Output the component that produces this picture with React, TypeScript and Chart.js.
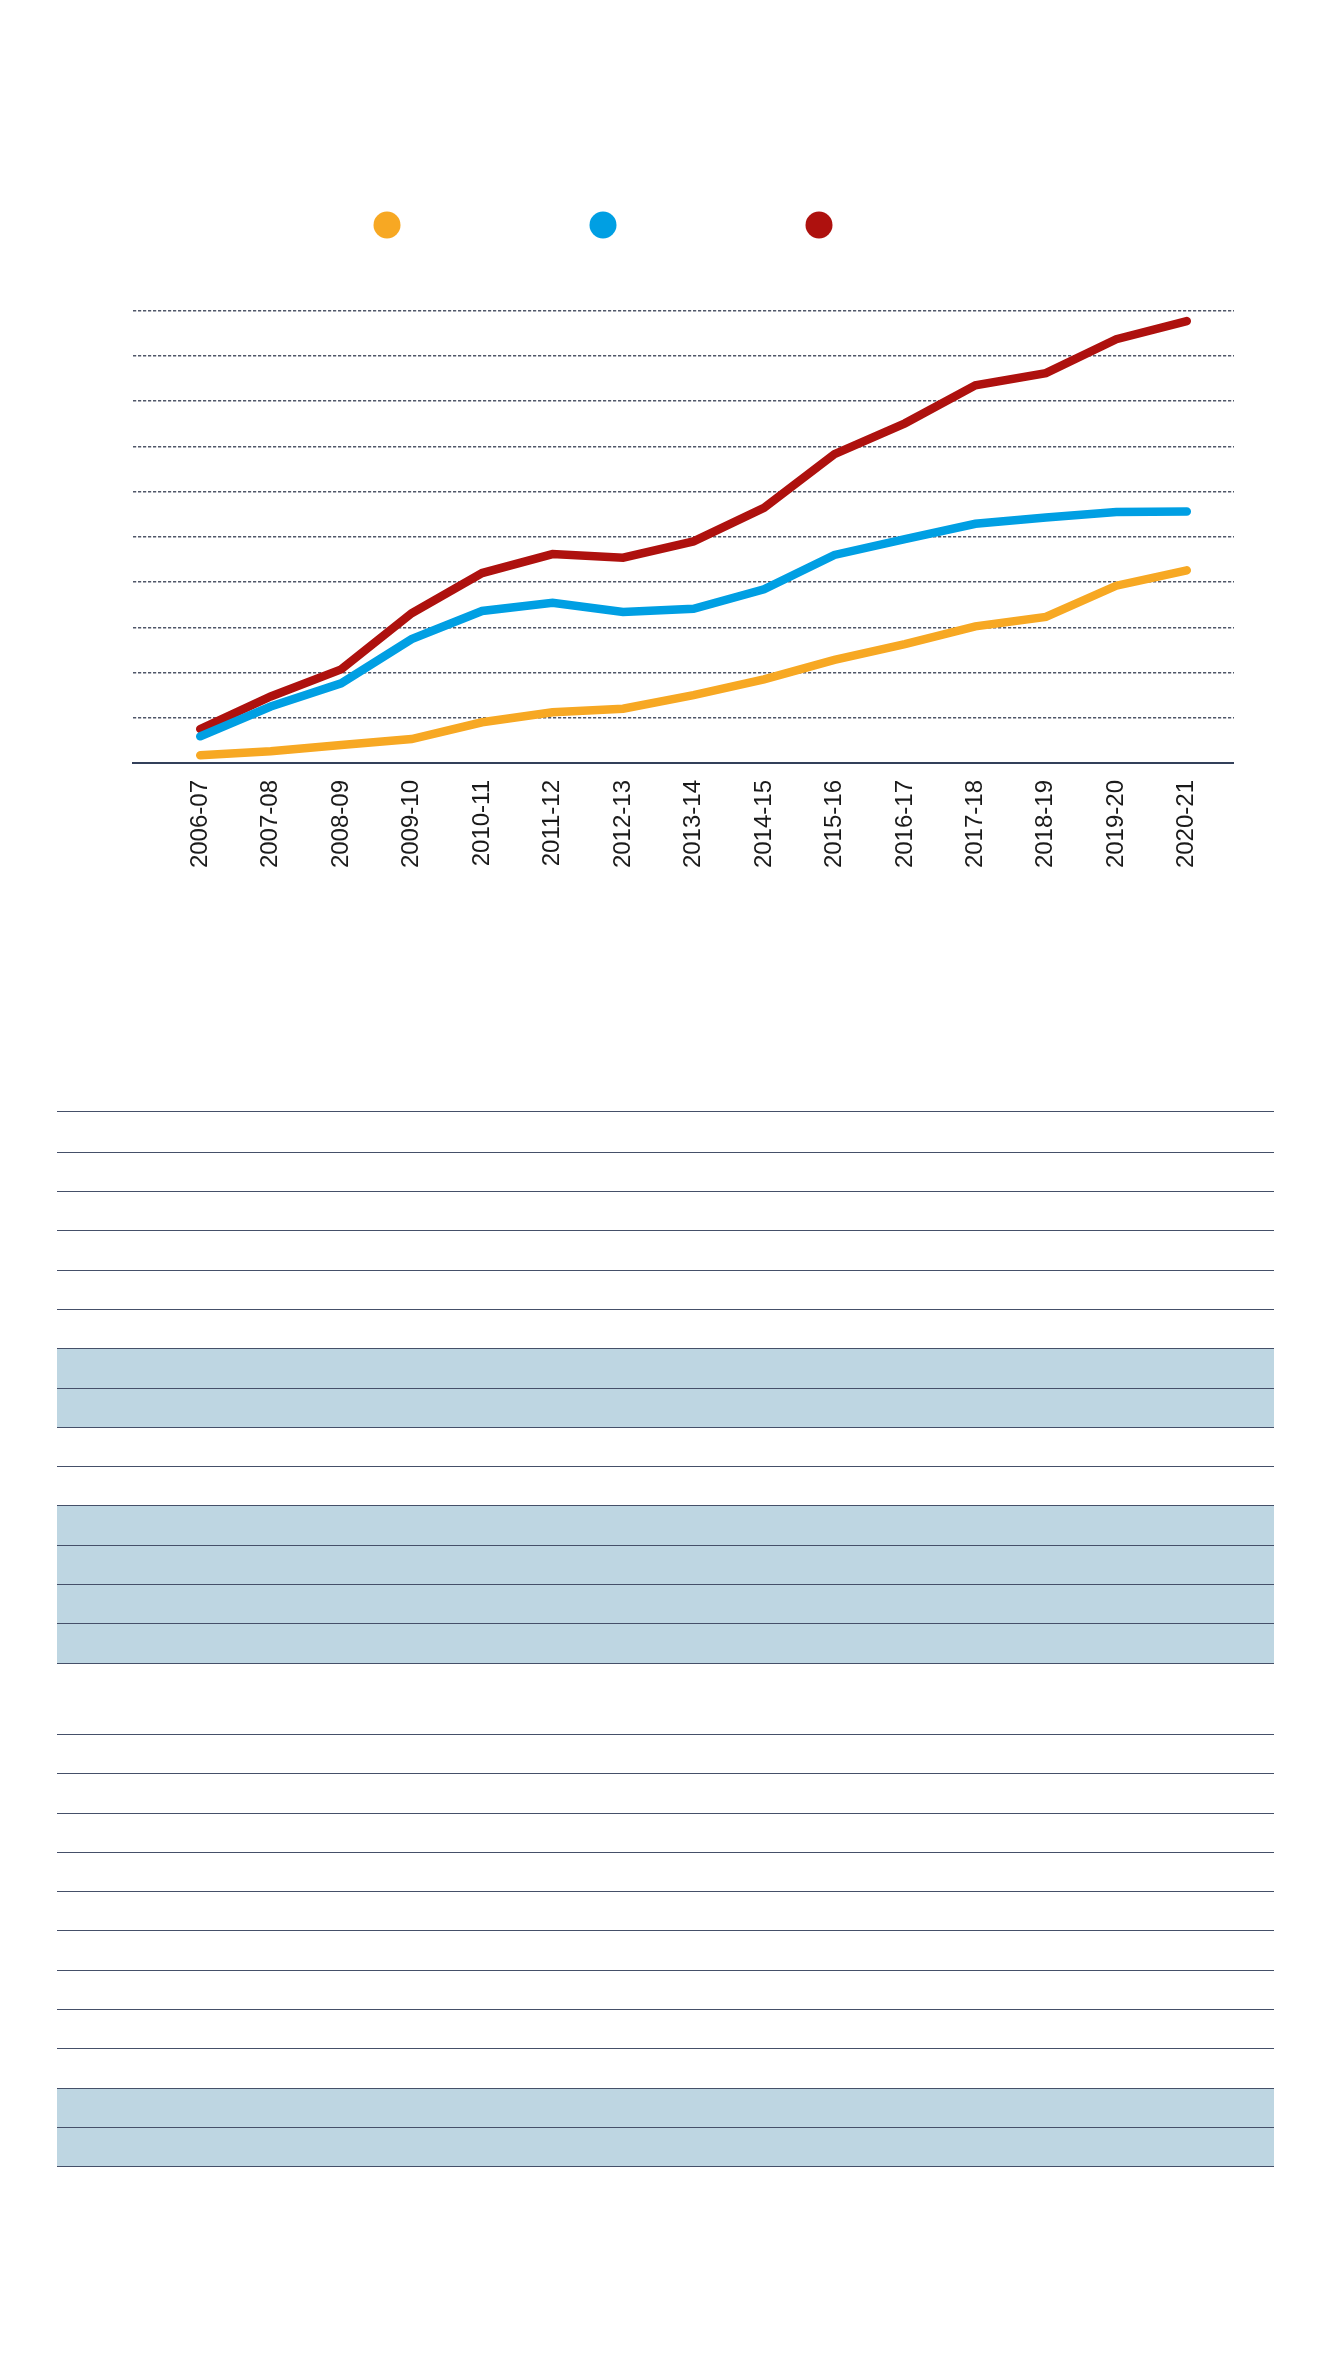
import React, { useEffect, useRef } from "react";
import { Chart, registerables } from "chart.js";

Chart.register(...registerables);

const categories = [
  "2006-07", "2007-08", "2008-09", "2009-10", "2010-11", "2011-12", "2012-13",
  "2013-14", "2014-15", "2015-16", "2016-17", "2017-18", "2018-19", "2019-20", "2020-21",
];

const seriesOrange = [0.17, 0.26, 0.4, 0.53, 0.9, 1.12, 1.2, 1.5, 1.85, 2.28, 2.63, 3.02, 3.23, 3.92, 4.26];
const seriesBlue = [0.59, 1.25, 1.76, 2.74, 3.36, 3.54, 3.34, 3.41, 3.84, 4.6, 4.95, 5.29, 5.43, 5.55, 5.56];
const seriesRed = [0.75, 1.47, 2.07, 3.31, 4.2, 4.62, 4.54, 4.9, 5.64, 6.83, 7.51, 8.35, 8.62, 9.37, 9.77];

const seriesColors = ["#F7A823", "#009FE3", "#AE110E"];

const yMin = 0;
const yMax = 10;
const yStep = 1;

// table rows below the chart: "w" plain, "s" shaded, "t" tall plain, "h" header
const tableRows = [
  "h", "w", "w", "w", "w", "w", "s", "s", "w", "w", "s", "s", "s", "s",
  "t", "w", "w", "w", "w", "w", "w", "w", "w", "w", "s", "s",
];

const FONT = "'Liberation Sans', Arial, Helvetica, sans-serif";

function LineChart() {
  const ref = useRef<HTMLCanvasElement | null>(null);

  useEffect(() => {
    if (!ref.current) return;
    const toPoints = (arr: number[]) => arr.map((v, i) => ({ x: i, y: v }));
    const series = [seriesOrange, seriesBlue, seriesRed];
    const chart = new Chart(ref.current, {
      type: "line",
      data: {
        datasets: series.map((s, i) => ({
          label: "",
          data: toPoints(s),
          borderColor: seriesColors[i],
          backgroundColor: seriesColors[i],
          borderWidth: 8.5,
          borderCapStyle: "round" as const,
          borderJoinStyle: "miter" as const,
          pointRadius: 0,
          pointHoverRadius: 0,
          tension: 0,
          fill: false,
        })),
      },
      options: {
        animation: false,
        responsive: true,
        maintainAspectRatio: false,
        layout: { autoPadding: false, padding: { top: 28, left: 0, right: 0, bottom: 0 } },
        plugins: {
          tooltip: { enabled: false },
          title: {
            display: true,
            text: "",
            weight: 500,
            font: { size: 1, lineHeight: 1 },
            padding: { top: 0, bottom: 38.7 },
          } as any,
          legend: {
            display: true,
            position: "top",
            align: "center",
            labels: {
              usePointStyle: true,
              pointStyle: "circle",
              pointStyleWidth: 27,
              boxHeight: 19,
              padding: 153,
              font: { size: 72, family: FONT },
              generateLabels: (c: any) => {
                const items = Chart.defaults.plugins.legend.labels.generateLabels(c);
                return items.map((it: any, i: number) => ({
                  ...it,
                  text: "",
                  lineWidth: 0,
                  fillStyle: seriesColors[i],
                  strokeStyle: seriesColors[i],
                }));
              },
            },
          },
        },
        scales: {
          x: {
            type: "linear",
            min: -0.954,
            max: 14.67,
            afterBuildTicks: (scale: any) => {
              scale.ticks = categories.map((_, i) => ({ value: i }));
            },
            afterFit: (scale: any) => {
              scale.height = 120;
            },
            grid: { display: false, drawTicks: false },
            border: { display: true, color: "#33405A", width: 2 },
            ticks: {
              autoSkip: false,
              minRotation: 90,
              maxRotation: 90,
              padding: 17,
              color: "#1a1a1a",
              font: { size: 24, family: FONT },
              callback: (v: any) => categories[Math.round(Number(v))] ?? "",
            },
          },
          y: {
            min: yMin,
            max: yMax,
            afterFit: (scale: any) => {
              scale.width = 125;
            },
            ticks: { display: false, stepSize: yStep },
            border: { display: false, dash: [3.2, 1.8] },
            grid: {
              drawTicks: false,
              lineWidth: 1.5,
              color: (ctx: any) => (ctx.tick && ctx.tick.value === 0 ? "rgba(0,0,0,0)" : "#505769"),
            },
          },
        },
      } as any,
    });
    return () => chart.destroy();
  }, []);

  return (
    <div style={{ position: "relative", width: 1226, height: 875 }}>
      <canvas ref={ref} />
    </div>
  );
}

function EmptyTable() {
  return (
    <div
      style={{
        marginTop: 228,
        marginLeft: 49,
        width: 1217,
        borderTop: "1px solid #455069",
      }}
    >
      {tableRows.map((kind, i) => (
        <div
          key={i}
          style={{
            boxSizing: "border-box",
            height: kind === "h" ? 40.8 : kind === "t" ? 71.3 : 39.3,
            borderBottom: "1px solid #455069",
            background: kind === "s" ? "#BED6E2" : "#FFFFFF",
          }}
        />
      ))}
    </div>
  );
}

export default function App() {
  return (
    <div style={{ fontFamily: FONT }}>
      <LineChart />
      <EmptyTable />
    </div>
  );
}
